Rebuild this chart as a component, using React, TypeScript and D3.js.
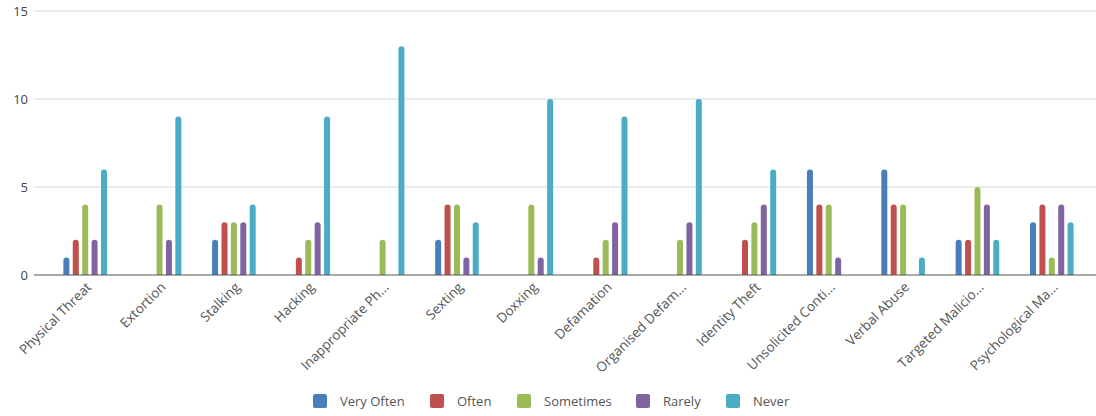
import React from "react";
import * as d3 from "d3";

const categories = [
  "Physical Threat", "Extortion", "Stalking", "Hacking", "Inappropriate Ph...",
  "Sexting", "Doxxing", "Defamation", "Organised Defam...", "Identity Theft",
  "Unsolicited Conti...", "Verbal Abuse", "Targeted Malicio...", "Psychological Ma...",
];
const seriesNames = ["Very Often", "Often", "Sometimes", "Rarely", "Never"];
const veryOften = [1, 0, 2, 0, 0, 2, 0, 0, 0, 0, 6, 6, 2, 3];
const often = [2, 0, 3, 1, 0, 4, 0, 1, 0, 2, 4, 4, 2, 4];
const sometimes = [4, 4, 3, 2, 2, 4, 4, 2, 2, 3, 4, 4, 5, 1];
const rarely = [2, 2, 3, 3, 0, 1, 1, 3, 3, 4, 1, 0, 4, 4];
const never = [6, 9, 4, 9, 13, 3, 10, 9, 10, 6, 0, 1, 2, 3];
const yTicks = [0, 5, 10, 15];
const colors = ["#4a7ebb", "#c0504d", "#9bbb59", "#8064a2", "#4bacc6"];

const seriesValues = [veryOften, often, sometimes, rarely, never];

export default function App() {
  const W = 1096, H = 416;
  const x = d3.scaleBand<string>().domain(categories).range([48, 1089]).padding(0);
  const y = d3.scaleLinear().domain([0, 15]).range([275, 11]);
  const barW = 6;
  const step = 9.4;
  const font = "'Open Sans', sans-serif";
  const legendX = [313, 430, 517, 636, 726];

  return (
    <svg width={W} height={H} style={{ position: "absolute", left: 0, top: 0, background: "#fff" }}>
      {yTicks.map((t) => (
        <g key={t}>
          {t !== 0 && <line x1={34} x2={W} y1={y(t)} y2={y(t)} stroke="#d9d9d9" strokeWidth={1} />}
          <text x={28} y={y(t) + 4.5} textAnchor="end" fontSize={13} fill="#444" fontFamily={font}>{t}</text>
        </g>
      ))}
      {categories.map((c, i) => {
        const cx = (x(c) as number) + x.bandwidth() / 2;
        return (
          <g key={c}>
            {seriesValues.map((vals, s) => {
              const v = vals[i];
              if (!v) return null;
              const bx = cx + (s - 2) * step - barW / 2;
              const top = y(v);
              return (
                <path
                  key={s}
                  d={`M${bx},${y(0)} V${top + 3} Q${bx},${top} ${bx + 3},${top} Q${bx + barW},${top} ${bx + barW},${top + 3} V${y(0)} Z`}
                  fill={colors[s]}
                />
              );
            })}
            <text
              transform={`translate(${cx + 7},${288}) rotate(-45)`}
              textAnchor="end"
              fontSize={13.5}
              fill="#555"
              fontFamily={font}
            >
              {c}
            </text>
          </g>
        );
      })}
      <line x1={34} x2={W} y1={y(0)} y2={y(0)} stroke="#555" strokeWidth={1.2} />
      {seriesNames.map((n, s) => (
        <g key={n}>
          <rect x={legendX[s]} y={394} width={14} height={14} rx={2} fill={colors[s]} />
          <text x={legendX[s] + 27} y={406} fontSize={13} fill="#555" fontFamily={font}>{n}</text>
        </g>
      ))}
    </svg>
  );
}
